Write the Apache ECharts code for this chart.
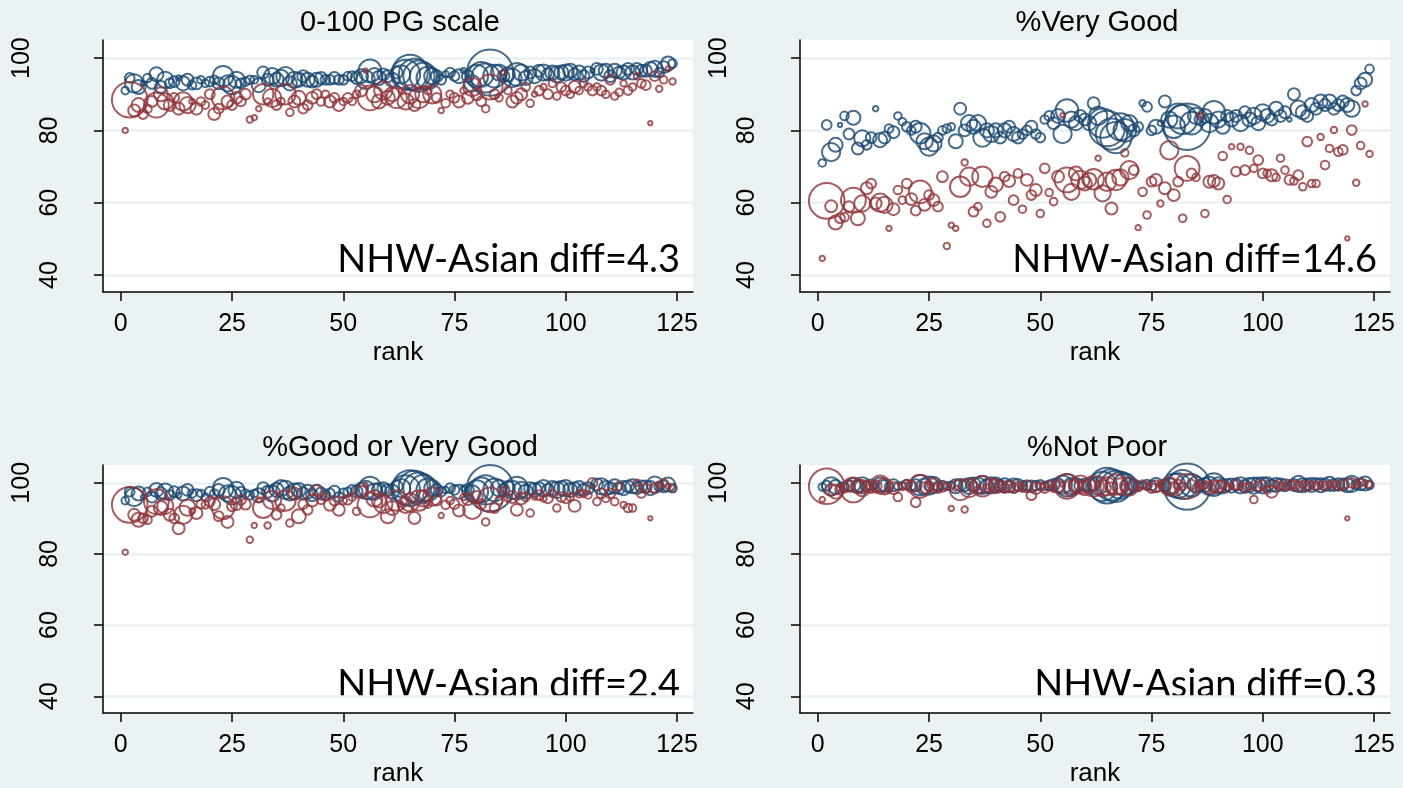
<!DOCTYPE html>
<html>
<head>
<meta charset="utf-8">
<script src="https://cdn.jsdelivr.net/npm/echarts@6.0.0/dist/echarts.min.js"></script>
<style>
  html, body { margin: 0; padding: 0; background: #eaf2f3; }
  #chart { width: 1403px; height: 788px; }
</style>
</head>
<body>
<div id="chart"></div>
<script>
// hospital rank (x)
const rank = [
  1,2,3,4,5,6,7,8,9,10,11,12,13,14,15,16,17,18,19,20,
  21,22,23,24,25,26,27,28,29,30,31,32,33,34,35,36,37,38,39,40,
  41,42,43,44,45,46,47,48,49,50,51,52,53,54,55,56,57,58,59,60,
  61,62,63,64,65,66,67,68,69,70,71,72,73,74,75,76,77,78,79,80,
  81,82,83,84,85,86,87,88,89,90,91,92,93,94,95,96,97,98,99,100,
  101,102,103,104,105,106,107,108,109,110,111,112,113,114,115,116,117,118,119,120,
  121,122,123,124
]

// respondent weights (bubble area)
const nhwN = [
  16,25,81,49,6,20,30,49,36,64, 25,30,9,49,36,20,36,16,16,25,
  20,36,100,64,81,64,25,20,20,16, 49,36,36,64,49,64,81,49,64,49,
  36,49,36,49,36,25,25,36,25,25, 20,25,36,49,81,121,64,49,36,36,
  49,36,81,196,289,225,225,169,121,64, 36,25,12,25,25,49,9,36,64,121,
  144,196,484,121,64,36,49,81,121,64, 49,36,49,36,64,36,49,64,49,64,
  49,36,49,36,36,6,36,64,49,36, 49,36,49,36,49,36,36,36,49,64,
  25,36,49,20
]
const asianN = [
  9,289,36,49,25,20,30,144,49,64, 36,25,36,81,64,9,36,20,16,25,
  36,25,121,36,25,36,25,30,12,9, 9,100,12,81,25,16,100,16,36,49,
  25,25,36,25,20,16,36,25,36,16, 25,16,16,36,6,144,64,49,81,49,
  49,100,9,64,81,36,100,64,16,81, 25,9,20,16,25,36,12,36,81,36,
  25,16,144,25,16,9,16,36,36,36, 20,16,9,25,12,25,16,16,25,25,
  16,36,16,16,16,25,16,25,16,25, 16,16,12,20,16,12,20,25,6,25,
  12,16,9,12
]

// 0-100 PG scale
const nhwPG = [
  91,94.5,93,92,93,94.5,93,95.5,92,94, 93,93.5,94.5,93,94,92.5,93,94,93,93.5,
  94,93,95,93,92.5,94,93,93.5,94,94, 92.5,96,94,95,94,94.5,95,93,94,94,
  95,94,93.5,94,94.5,94,94,94.5,94,94, 95,95,94.5,95,94,96.5,95,94.5,95.5,95,
  94,96,95.5,95.5,96,95.5,95,95,94.5,95, 95,94,95.5,96,95,95,96.5,95,93,95,
  95.5,94.5,96,95,96,95,95.5,94.5,95.5,96, 94.5,96,95,96.5,96,95.5,96,95.5,96,96,
  96.5,95.5,96,95,96,96.5,97,96,96.5,95, 96.5,96,96,97,96,97,96.5,96.5,97,97,
  96,97.5,98.5,98.5
]
const asianPG = [
  80,88.5,85.5,87,84.5,86,88,87,90,88, 87,89,86,88,87,88,86,88,87,90,
  84.5,86,89,88,87,89,88,90,83,83.5, 86,90,88,89,87,88,90,85,88,89,
  86,87,89,90,88,90,88,89,87,88, 89,88,90,91,96.5,89,90,88,91,89,
  90,89,91,88,90,87,89,90,91,90, 89,85.5,87.5,90,89,88,91,89,92,90,
  88,86,92,90,89,96,91,88,89,90, 92,87.5,90,91,92,90,93,89.5,92,91,
  90,92,91,93,92,91,92,91,90,94, 89.5,90.5,93,91,92,95,93,92.5,82,95,
  91.5,94,97,93.5
]

// %Very Good
const nhwVG = [
  71,81.5,74,76,81.5,84,79,83.5,75,77.8, 76,78,86,77.3,78,80.5,79.5,84,82.4,81,
  80,81,79.2,77,75.5,76.4,78,80,80.5,81, 77,86,80,82,81,82,78,80,79,80,
  78,80,81,79,78,79,80,81,79,78, 83,84,82,84,79,85.5,83,82,84,83,
  82,87.5,84,82,80.5,79,78,81,80,82, 80,81,87.5,86.5,80,81,82,88,83,81,
  84,83,81,82,84,83,84,82,85,83, 81,84,83,84,82,85,83,84,82,85,
  84,83,86,84,85,83,90,86,85,84, 87,86,88,87,88,86,87,88,87,86,
  91,93,94,97
]
const asianVG = [
  44.6,60.5,59,54.5,55.7,56,58.9,60.7,55.7,59.8, 64,65.3,59.8,60,59.4,52.9,58.2,63.5,60.7,65.3,
  61,57.8,63,59.4,62.1,60.7,58.9,67.2,48,53.8, 52.9,64.4,71.1,67.2,57.5,58.9,67.2,54.3,63,65,
  56.1,67.2,66,60.7,68.1,58.2,66.3,62.1,63.5,57, 69.5,62.8,60.3,67.2,84.2,66.3,63,68.1,66.3,65.3,
  66.3,66.5,72.3,62.6,65.8,58.4,66.3,67,73.8,69, 69,53.1,63,56.6,65.8,66.3,59.8,64,74.5,62.1,
  65.8,55.7,69.5,68.1,67,84.2,57,65.8,66,65.3, 72.9,60.9,75.5,68.6,75.5,69,74.5,69.5,71.8,68.1,
  68.1,67.6,67,72.3,69,66.3,66,67.6,64.4,76.9, 65.3,65.3,78.2,70.4,75,80.1,74.1,74.6,50.1,80.1,
  65.5,75.8,87.3,73.5
]

// %Good or Very Good
const nhwGVG = [
  95,97.5,96,97,96,97.5,96,98,97,97.5, 96.5,97.5,96.5,97,98,97,96.5,97,96,97.5,
  97,98,98.5,97,96.5,98,97.5,97,96.5,97, 96.5,98.5,97.5,97,98,98.5,98,97,97.5,98,
  97,97.5,96.5,97.5,97,96.5,97,97.5,96,97, 97.5,98,97.5,98,98,98.5,97.5,98,98.5,98,
  97.5,99,98.5,98,98.5,99,98.5,98.5,98,98.5, 98,97.5,98,98.5,98,97.5,98.5,98,97,97.5,
  98,98,98.5,98,98.5,98,98.5,98,98.5,98, 97.5,98.5,98,98.5,98.5,98,98.5,98,98.5,98.5,
  98,98.5,98.5,98,98.5,99,99.5,99,98.5,98.5, 99,98.5,98.5,99,99,98.5,99,99,98.5,99.5,
  99,99,99.5,98.5
]
const asianGVG = [
  80.5,93.8,91,89.6,90,89.6,92,94.7,92.9,93.5, 91,90,87.2,91,93,92,91.5,94,93.8,94.7,
  94,90.6,93,89,93.4,94,95.2,94,84,88, 95.2,93,88,95.2,91,92.9,95,88.7,97,90.6,
  94,92.4,95,98,95.2,96,93.8,95,92.4,95, 95.2,96,92,97.5,99.5,93.8,95.6,95,94,90.6,
  92.9,95,94,93.8,94.5,90.1,95,95.6,94,96.1, 95,90.8,93.8,95,94,92.2,96,95.4,92.4,96,
  94,89,95.2,92.9,95,98.2,95.7,96,92.4,95.6, 96,91.5,96,96.5,95.6,95.6,97,92.9,96,95.6,
  96,93.5,96.9,97,96.6,100,94.7,97,95.6,97, 94.7,99,93.8,92.9,92.9,100,97,98.4,90,98.4,
  99.4,100,99,98.4
]

// %Not Poor
const nhwNP = [
  98.8,99.2,99,98.8,99.3,99,99.2,99.4,99,99.3, 99,99.4,99.2,99.5,99.1,98.8,99.3,99,99.2,99.5,
  99.1,99.3,99.4,98.9,99.2,99.4,99,99.3,99.1,99.2, 99,99.4,99.3,99.1,99.5,99.2,99.4,99,99.3,99.5,
  99.1,99.3,99,99.2,99.4,99.1,99.3,99,99.2,99.4, 99.1,99.3,99.4,99.2,99.5,99.3,99.1,99.4,99.2,99.5,
  99.3,99.6,99.2,99,99.2,99.4,99,99.3,99.5,99.1, 99.3,99,99.4,99.5,99.2,99.4,99.6,99.3,99,99.4,
  99.2,99.5,98.9,99.3,99.5,99.2,99.4,99.1,99.5,99.3, 99,99.4,99.2,99.5,99.3,99.1,99.4,99.2,99.5,99.3,
  99.6,99.2,99.4,99.5,99.3,99.6,99.4,99.7,99.3,99.5, 99.4,99.6,99.3,99.5,99.7,99.4,99.6,99.5,99.3,99.7,
  99.5,99.6,99.8,99.4
]
const asianNP = [
  95.3,99,98,97.5,98,98.5,99,98,99,98.5, 99,98.5,99,99.5,99,98,98.5,96,99,99.5,
  99,94.5,99,98.5,99,99.5,98.5,99,99,92.8, 98.5,98,92.5,98.5,99,98,99,98.5,99.5,99,
  99,98.5,99,98.5,99,98.5,99,96.5,98.5,99, 98.5,99.5,98.5,99,99.5,99,98.5,99,99.5,98.5,
  99,99,99.5,98.5,99,98.5,99.5,99,98.5,99, 99,98.5,99.5,99,98.5,99,99.5,99,99,98.5,
  99.5,99,99,99.5,98.5,99,99.5,98.5,99,99, 99.5,98.5,99,99.5,99,98.5,99,95.3,99,99.5,
  98,97.5,99.5,99,99,99.5,99.5,99,99.5,99, 99.5,99,99.5,99,99.5,99.5,99,99.5,90,100,
  99.5,100,100,99.5
]

const titles = ['0-100 PG scale', '%Very Good', '%Good or Very Good', '%Not Poor']
const diffs = ['NHW-Asian diff=4.3', 'NHW-Asian diff=14.6', 'NHW-Asian diff=2.4', 'NHW-Asian diff=0.3']
const xTicks = [0, 25, 50, 75, 100, 125]
const yTicks = [40, 60, 80, 100]

const nhwSets = [nhwPG, nhwVG, nhwGVG, nhwNP]
const asianSets = [asianPG, asianVG, asianGVG, asianNP]

const NAVY = '#1a476f'
const MAROON = '#90353b'
const BG = '#eaf2f3'

// panel boxes
const boxes = [[103, 40], [800, 40], [103, 465], [800, 465]]
const PW = 590, PH = 252

const bubble = w => 2.15 * Math.sqrt(w) - 1

const chart = echarts.init(document.getElementById('chart'))

const grid = boxes.map(b => ({
  left: b[0], top: b[1], width: PW, height: PH,
  show: true, backgroundColor: '#fff', borderWidth: 0
}))

const xAxis = boxes.map((b, i) => ({
  type: 'value', gridIndex: i, min: -4, max: 128.6,
  axisLine: { show: true, onZero: false, lineStyle: { color: '#000', width: 1.5 } },
  axisTick: { show: true, customValues: xTicks, length: 9, lineStyle: { color: '#000', width: 1.5 } },
  axisLabel: { customValues: xTicks, fontSize: 25, color: '#000', margin: 20, fontFamily: 'Liberation Sans' },
  splitLine: { show: false },
  name: 'rank', nameLocation: 'middle', nameGap: 48,
  nameTextStyle: { fontSize: 26, color: '#000', fontFamily: 'Liberation Sans' }
}))

const yAxis = boxes.map((b, i) => ({
  type: 'value', gridIndex: i, min: 35.3, max: 105,
  axisLine: { show: true, onZero: false, lineStyle: { color: '#000', width: 1.5 } },
  axisTick: { show: true, customValues: yTicks, length: 9, lineStyle: { color: '#000', width: 1.5 } },
  axisLabel: {
    customValues: yTicks, rotate: 90, fontSize: 25, color: '#000', margin: 40, fontFamily: 'Liberation Sans',
    formatter: v => v === 100 ? '{top|100}' : String(v),
    rich: { top: { fontSize: 25, fontFamily: 'Liberation Sans', color: '#000', padding: [0, 0, 28, 0] } }
  },
  splitLine: { show: true, lineStyle: { color: BG, width: 2.5 } }
}))

const series = []
boxes.forEach((b, i) => {
  series.push({
    type: 'scatter', xAxisIndex: i, yAxisIndex: i, clip: false, silent: true,
    data: rank.map((r, k) => [r, nhwSets[i][k], nhwN[k]]),
    symbolSize: d => bubble(d[2]),
    itemStyle: { color: 'rgba(0,0,0,0)', borderColor: NAVY, borderWidth: 2 }
  })
  series.push({
    type: 'scatter', xAxisIndex: i, yAxisIndex: i, clip: false, silent: true,
    data: rank.map((r, k) => [r, asianSets[i][k], asianN[k]]),
    symbolSize: d => bubble(d[2]),
    itemStyle: { color: 'rgba(0,0,0,0)', borderColor: MAROON, borderWidth: 2 }
  })
})

const graphic = []
boxes.forEach((b, i) => {
  graphic.push({
    type: 'text', x: b[0] + PW / 2 + 2, y: b[1] - 17,
    style: { text: titles[i], fontSize: 29, fontFamily: 'Liberation Sans', fill: '#000',
      align: 'center', textAlign: 'center', verticalAlign: 'middle', textVerticalAlign: 'middle' }
  })
  graphic.push({
    type: 'text', x: b[0] + 577, y: b[1] + 239,
    style: { text: diffs[i], fontSize: 38, fontFamily: 'Lato', fill: '#000',
      align: 'right', textAlign: 'right', verticalAlign: 'bottom', textVerticalAlign: 'bottom' }
  })
})

chart.setOption({
  backgroundColor: BG,
  animation: false,
  grid, xAxis, yAxis, series, graphic
})
</script>
</body>
</html>
